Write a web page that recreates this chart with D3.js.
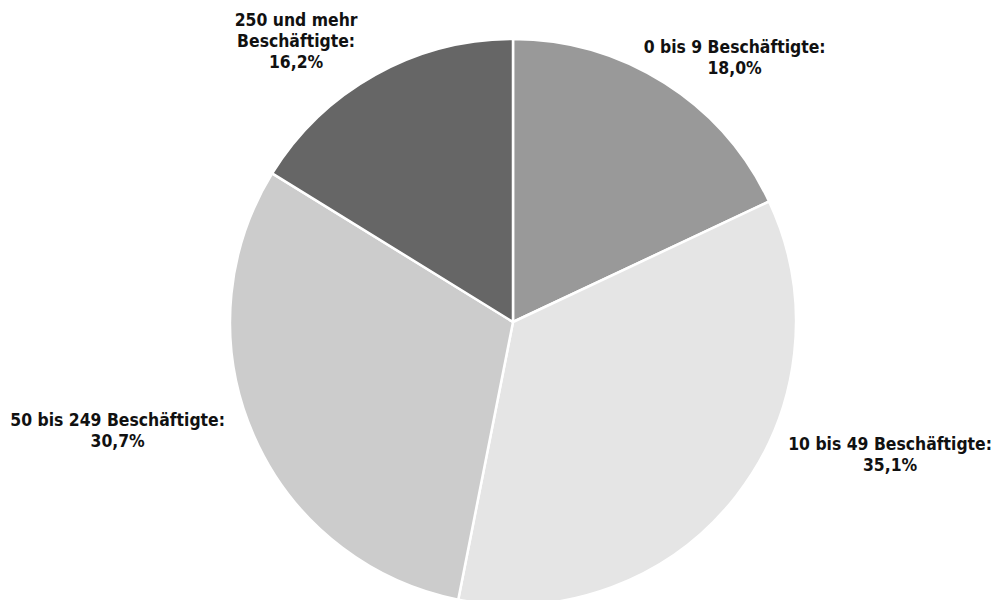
<!DOCTYPE html>
<html>
<head>
<meta charset="utf-8">
<script src="https://cdn.jsdelivr.net/npm/d3@7"></script>
<style>
  body { margin: 0; background: #fff; }
  text { font-family: "DejaVu Sans Condensed", "DejaVu Sans", sans-serif; font-stretch: condensed; font-weight: bold; font-size: 17.4px; fill: #111; }
</style>
</head>
<body>
<div id="chart"></div>
<script>
// Anteile nach Betriebsgröße
const categories = ["0 bis 9 Beschäftigte:", "10 bis 49 Beschäftigte:", "50 bis 249 Beschäftigte:", "250 und mehr|Beschäftigte:"];
const values = [18.0, 35.1, 30.7, 16.2];
const colors = ["#999999", "#e5e5e5", "#cccccc", "#666666"];

// Label-Verschiebung relativ zum Außenpunkt (Excel-Platzierung)
const labelNudge = [[70, -26], [154, -42], [-136, -5], [-79, -34]];

const width = 994, height = 600;
const cx = 513, cy = 322, radius = 283;

const svg = d3.select("#chart").append("svg")
    .attr("width", width).attr("height", height);

const g = svg.append("g").attr("transform", `translate(${cx},${cy})`);

const data = values.map((v, i) => ({ name: categories[i], value: v, i }));

const pie = d3.pie().sort(null).value(d => d.value);
const arc = d3.arc().innerRadius(0).outerRadius(radius);
const arcs = pie(data);

g.selectAll("path.slice")
    .data(arcs)
    .enter().append("path")
    .attr("class", "slice")
    .attr("d", arc)
    .attr("fill", d => colors[d.data.i])
    .attr("stroke", "#fff")
    .attr("stroke-width", 2.5)
    .attr("stroke-linejoin", "round");

const fmt = v => v.toFixed(1).replace(".", ",") + "%";

arcs.forEach(d => {
    const mid = (d.startAngle + d.endAngle) / 2;
    const px = Math.sin(mid) * radius + labelNudge[d.data.i][0];
    const py = -Math.cos(mid) * radius + labelNudge[d.data.i][1];
    const lines = d.data.name.split("|").concat([fmt(d.data.value)]);
    const lh = 21;
    const t = g.append("text")
        .attr("text-anchor", "middle")
        .attr("x", px)
        .attr("y", py - (lines.length - 1) * lh / 2 + 6);
    lines.forEach((l, k) => {
        t.append("tspan").attr("x", px).attr("dy", k === 0 ? 0 : lh).text(l);
    });
});
</script>
</body>
</html>
